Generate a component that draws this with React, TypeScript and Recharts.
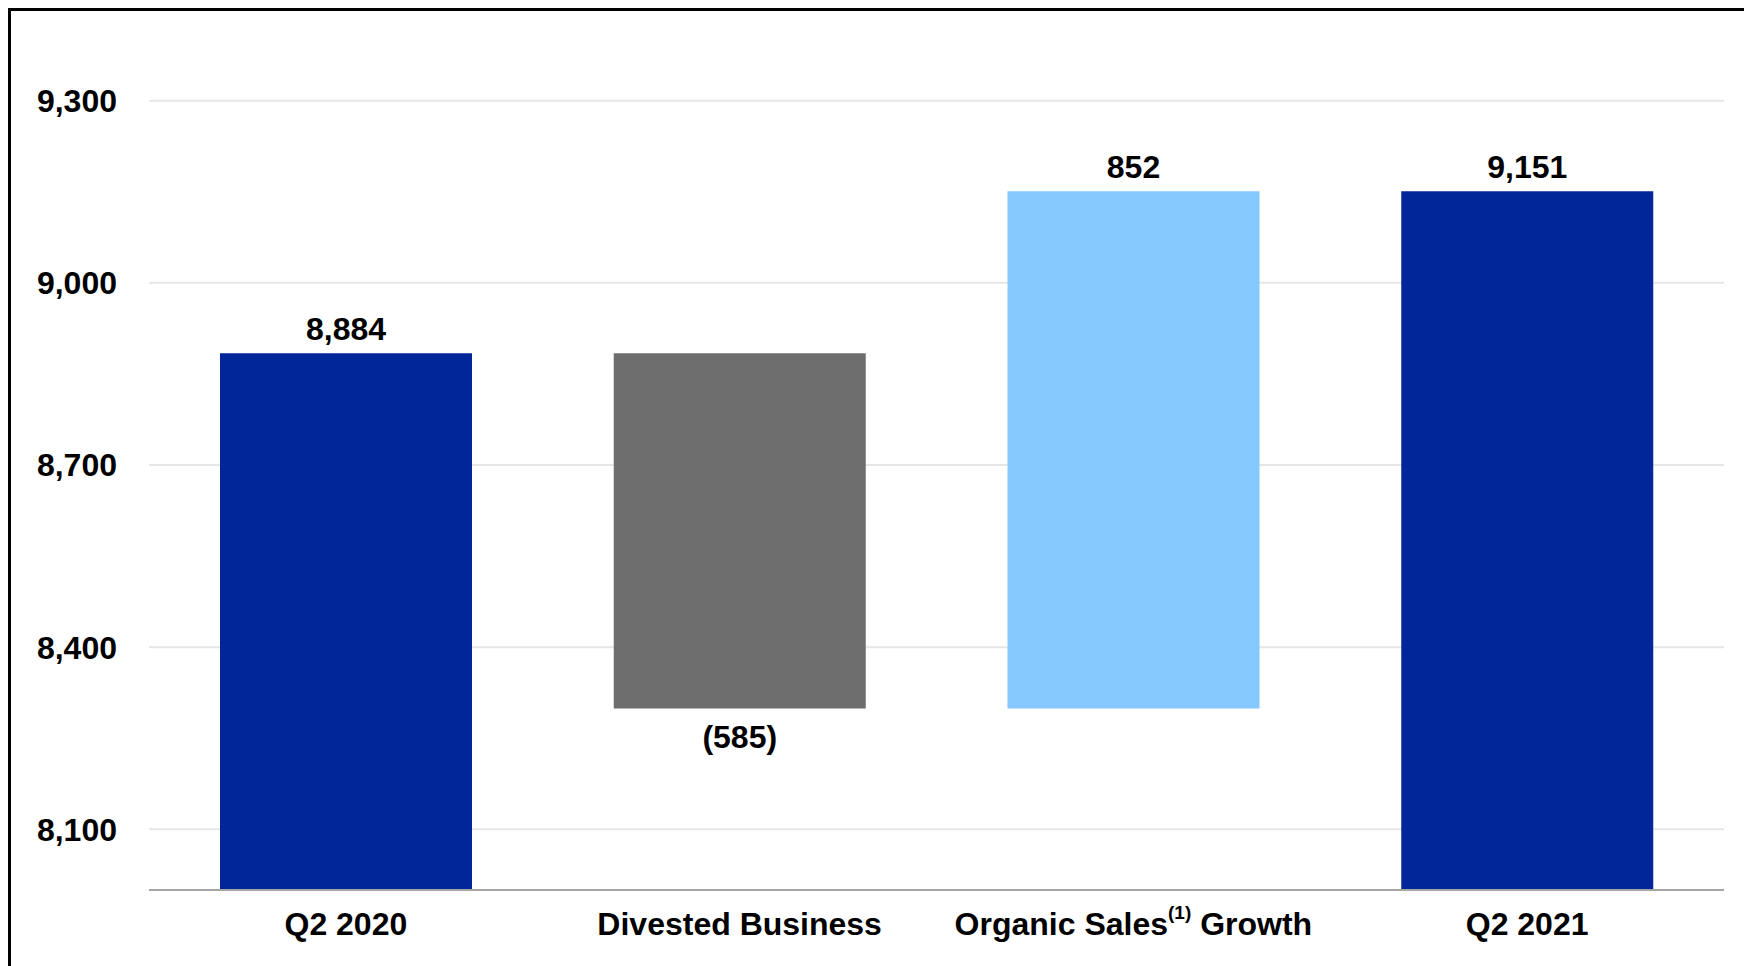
// Waterfall: net sales bridge Q2 2020 -> Q2 2021
import { BarChart, Bar, XAxis, YAxis, CartesianGrid, LabelList, Cell } from 'recharts'

const categories = ['Q2 2020', 'Divested Business', 'Organic Sales Growth', 'Q2 2021']
const changes = [8884, -585, 852, 9151]
const kinds = ['total', 'delta', 'delta', 'total']
const valueLabels = ['8,884', '(585)', '852', '9,151']
const barColors = ['#002699', '#6e6e6e', '#85c8ff', '#002699']
const yTicks = [8100, 8400, 8700, 9000, 9300]
const yDomain = [8000, 9400]

const FONT = '"Liberation Sans", Arial, sans-serif'

// build [low, high] ranges for each bar from the running total
let running = 0
const rows = categories.map((name, i) => {
  let range: [number, number]
  if (kinds[i] === 'total') {
    running = changes[i]
    range = [yDomain[0], changes[i]]
  } else {
    const start = running
    running = start + changes[i]
    range = [Math.min(start, running), Math.max(start, running)]
  }
  return { name, range, label: valueLabels[i], negative: changes[i] < 0 }
})

function XTick({ x, y, payload }: any) {
  const v: string = payload.value
  if (v === 'Organic Sales Growth') {
    return (
      <text x={x} y={y} dy={37} textAnchor="middle" fill="#000" fontFamily={FONT} fontWeight="bold" fontSize={32}>
        <tspan>Organic Sales</tspan>
        <tspan fontSize={19} dy={-16}>(1)</tspan>
        <tspan dy={16}> Growth</tspan>
      </text>
    )
  }
  return (
    <text x={x} y={y} dy={37} textAnchor="middle" fill="#000" fontFamily={FONT} fontWeight="bold" fontSize={32}>
      {v}
    </text>
  )
}

function ValueLabel(props: any) {
  const { x, y, width, height, index } = props
  const row = rows[index]
  const cx = x + width / 2
  const ty = row.negative ? y + height + 40 : y - 13
  return (
    <text x={cx} y={ty} textAnchor="middle" fill="#000" fontFamily={FONT} fontWeight="bold" fontSize={32}>
      {row.label}
    </text>
  )
}

export default function App() {
  return (
    <div
      style={{
        position: 'fixed',
        left: 8,
        top: 8,
        width: 1800,
        height: 1000,
        boxSizing: 'border-box',
        borderLeft: '3px solid #000',
        borderTop: '3px solid #000',
        background: '#fff',
        overflow: 'hidden',
      }}
    >
      <BarChart
        width={1725}
        height={947}
        data={rows}
        margin={{ top: 29, right: 12, left: 0, bottom: 8 }}
        style={{ outline: 'none' }}
      >
        <CartesianGrid
          vertical={false}
          horizontalValues={yTicks}
          stroke="#e6e6e6"
          strokeWidth={2}
        />
        <XAxis
          dataKey="name"
          height={60}
          interval={0}
          tickLine={false}
          axisLine={{ stroke: '#a6a6a6', strokeWidth: 2 }}
          tick={<XTick />}
        />
        <YAxis
          width={138}
          domain={yDomain}
          ticks={yTicks}
          allowDataOverflow
          axisLine={false}
          tickLine={false}
          tickMargin={26}
          tickFormatter={(v: number) => v.toLocaleString('en-US')}
          tick={{ fill: '#000', fontSize: 32, fontWeight: 'bold', fontFamily: FONT }}
        />
        <Bar dataKey="range" barSize={252} isAnimationActive={false}>
          {rows.map((r, i) => (
            <Cell key={r.name} fill={barColors[i]} />
          ))}
          <LabelList dataKey="label" content={<ValueLabel />} />
        </Bar>
      </BarChart>
    </div>
  )
}
